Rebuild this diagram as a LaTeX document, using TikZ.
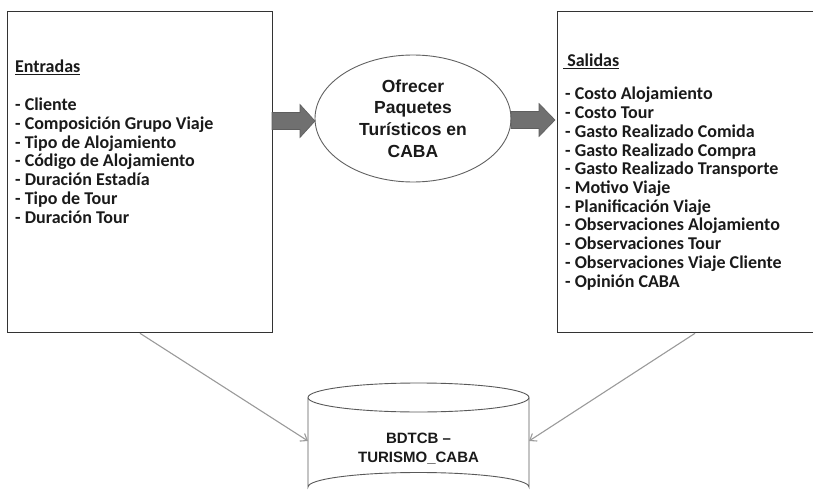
\documentclass[tikz,border=0pt]{standalone}
\usepackage{fontspec}
\setmainfont{Carlito}
\newfontfamily\arialf{Liberation Sans}
\usetikzlibrary{shapes.geometric,arrows.meta}
\definecolor{boxline}{HTML}{333333}
\definecolor{fatgray}{HTML}{707070}
\definecolor{fatedge}{HTML}{5E5E5E}
\definecolor{thingray}{HTML}{9A9A9A}
\definecolor{txt}{HTML}{1A1A1A}
\begin{document}
\begin{tikzpicture}[x=1pt,y=-1pt,
  iobox/.style={draw=boxline, line width=1.3pt, fill=white, rectangle, inner sep=0pt, anchor=north west},
  listtext/.style={anchor=base west, inner sep=0pt, text=txt, font=\fontsize{18}{18.8}\selectfont\bfseries},
  procell/.style={ellipse, draw=black!62, line width=0.9pt, minimum width=196pt, minimum height=127pt, inner sep=0pt, align=center, text=txt, font=\arialf\bfseries\fontsize{17.5}{21.7}\selectfont},
  fatarrow/.style={fill=fatgray, draw=fatedge, line width=0.6pt},
  thinarrow/.style={draw=thingray, line width=1.1pt, -{Straight Barb[length=6pt,width=9pt]}},
  dbline/.style={draw=black!65, line width=0.9pt},
  dbtext/.style={align=center, inner sep=0pt, text=txt, font=\arialf\bfseries\fontsize{15}{18.7}\selectfont}
]
\useasboundingbox (0,0) rectangle (813,497);

% boxes
\node[iobox, minimum width=265pt, minimum height=321pt] (inbox) at (7,11) {};
\node[iobox, minimum width=258pt, minimum height=321pt] (outbox) at (557,11) {};

% Entradas
\node[listtext] (inhead) at (15,73) {\underline{Entradas}};
\foreach \t [count=\i] in {Cliente, Composición Grupo Viaje, Tipo de Alojamiento, Código de Alojamiento, Duración Estadía, Tipo de Tour, Duración Tour}
  \node[listtext] (in\i) at (15,{110.7+(\i-1)*18.75}) {- \t};

% Salidas
\node[listtext] (outhead) at (563,66.7) {\underline{\ Salidas}};
\foreach \t [count=\i] in {Costo Alojamiento, Costo Tour, Gasto Realizado Comida, Gasto Realizado Compra, Gasto Realizado Transporte, Motivo Viaje, Planificación Viaje, Observaciones Alojamiento, Observaciones Tour, Observaciones Viaje Cliente, Opinión CABA}
  \node[listtext] (out\i) at (565,{100+(\i-1)*18.7}) {- \t};

% process
\node[procell] (proc) at (413,118.5) {Ofrecer\\Paquetes\\Turísticos en\\CABA};

% fat arrows
\fill[fatarrow] (272,112.5) -- (300,112.5) -- (300,104.5) -- (315,121) -- (300,137.5) -- (300,129.5) -- (272,129.5) -- cycle;
\fill[fatarrow] (511,111.5) -- (539,111.5) -- (539,103.5) -- (555,120) -- (539,136.5) -- (539,128.5) -- (511,128.5) -- cycle;

% database cylinder
\draw[dbline, fill=white] (308,397.5) -- (308,487) arc[start angle=180, end angle=0, x radius=110.5pt, y radius=14.5pt] -- (529,397.5);
\draw[dbline] (418.5,397.5) ellipse[x radius=110.5pt, y radius=14.5pt];
\node[dbtext] (db) at (418.5,449) {BDTCB –\\TURISMO\_CABA};
\coordinate (dbL) at (308,441);
\coordinate (dbR) at (529,441);

% connectors
\draw[thinarrow] ([xshift=133pt]inbox.south west) -- (dbL);
\draw[thinarrow] ([xshift=138pt]outbox.south west) -- (dbR);
\end{tikzpicture}
\end{document}
